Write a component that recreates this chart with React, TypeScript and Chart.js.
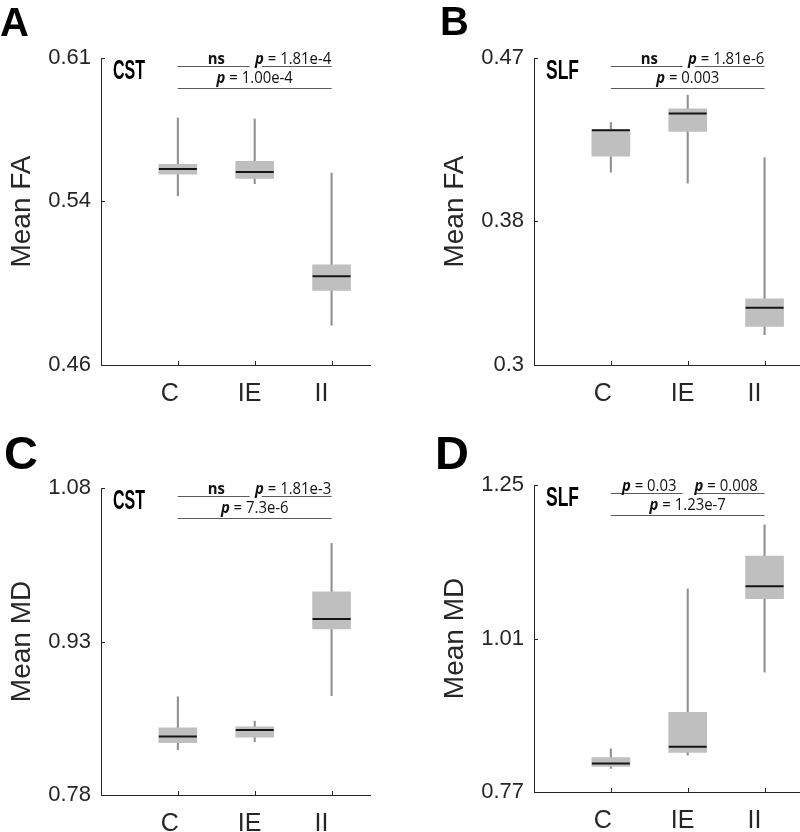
import React, { useEffect, useRef } from 'react';
import { Chart, registerables } from 'chart.js';

Chart.register(...registerables);

// ---------- data ----------
const categories = ['C', 'IE', 'II'];

// A: CST, mean FA
const aHigh = [0.5807, 0.5802, 0.5538];
const aQ3 = [0.5581, 0.5595, 0.5089];
const aMed = [0.5558, 0.5543, 0.5034];
const aQ1 = [0.5533, 0.5512, 0.4965];
const aLow = [0.5427, 0.5486, 0.4794];
const aTicks = [0.46, 0.54, 0.61];
const aTickLabels = ['0.46', '0.54', '0.61'];
const aNotes = ['ns', 'p = 1.81e-4', 'p = 1.00e-4'];

// B: SLF, mean FA
const bHigh = [0.4343, 0.4494, 0.4148];
const bQ3 = [0.4304, 0.4418, 0.3367];
const bMed = [0.4300, 0.4393, 0.3317];
const bQ1 = [0.4156, 0.4293, 0.3213];
const bLow = [0.4068, 0.4007, 0.3168];
const bTicks = [0.3, 0.38, 0.47];
const bTickLabels = ['0.3', '0.38', '0.47'];
const bNotes = ['ns', 'p = 1.81e-6', 'p = 0.003'];

// C: CST, mean MD
const cHigh = [0.8760, 0.8522, 1.0259];
const cQ3 = [0.8457, 0.8467, 0.9786];
const cMed = [0.8372, 0.8434, 0.9519];
const cQ1 = [0.8311, 0.8366, 0.9422];
const cLow = [0.8242, 0.8320, 0.8770];
const cTicks = [0.78, 0.93, 1.08];
const cTickLabels = ['0.78', '0.93', '1.08'];
const cNotes = ['ns', 'p = 1.81e-3', 'p = 7.3e-6'];

// D: SLF, mean MD
const dHigh = [0.8375, 1.0875, 1.1877];
const dQ3 = [0.8240, 0.8947, 1.1389];
const dMed = [0.8147, 0.8406, 1.0915];
const dQ1 = [0.8100, 0.8318, 1.0723];
const dLow = [0.8069, 0.8277, 0.9575];
const dTicks = [0.77, 1.01, 1.25];
const dTickLabels = ['0.77', '1.01', '1.25'];
const dNotes = ['p = 0.03', 'p = 0.008', 'p = 1.23e-7'];

// ---------- styles ----------
const SANS = "'Liberation Sans', Arial, Helvetica, sans-serif";
const NOTE_FONT = "'Open Sans', 'Noto Sans', sans-serif";
const AXIS_COLOR = '#262626';
const BOX_COLOR = '#bfbfbf';
const WHISKER_COLOR = '#8f8f8f';
const MEDIAN_COLOR = '#151515';
const NOTE_LINE = '#5a5a5a';
const NOTE_SIZE = 16;
const NOTE_SQUEEZE = 0.93;

const CW = 400;
const CH = 416;

type PanelCfg = {
  letter: string;
  letterX: number;
  letterY: number;
  letterSize: number;
  region: string;
  regionWidth: number;
  yTitle: string;
  left: number;
  top: number;
  high: number[];
  q3: number[];
  med: number[];
  q1: number[];
  low: number[];
  ticks: number[];
  tickLabels: string[];
  notes: string[];
};

const panels: PanelCfg[] = [
  { letter: 'A', letterX: 0, letterY: 36, letterSize: 40, region: 'CST', regionWidth: 32, yTitle: 'Mean FA', left: 0, top: 0,
    high: aHigh, q3: aQ3, med: aMed, q1: aQ1, low: aLow, ticks: aTicks, tickLabels: aTickLabels, notes: aNotes },
  { letter: 'B', letterX: 7, letterY: 35, letterSize: 40, region: 'SLF', regionWidth: 33, yTitle: 'Mean FA', left: 433, top: 0,
    high: bHigh, q3: bQ3, med: bMed, q1: bQ1, low: bLow, ticks: bTicks, tickLabels: bTickLabels, notes: bNotes },
  { letter: 'C', letterX: 4, letterY: 39, letterSize: 47, region: 'CST', regionWidth: 32, yTitle: 'Mean MD', left: 0, top: 430,
    high: cHigh, q3: cQ3, med: cMed, q1: cQ1, low: cLow, ticks: cTicks, tickLabels: cTickLabels, notes: cNotes },
  { letter: 'D', letterX: 2, letterY: 42, letterSize: 47, region: 'SLF', regionWidth: 33, yTitle: 'Mean MD', left: 433, top: 427,
    high: dHigh, q3: dQ3, med: dMed, q1: dQ1, low: dLow, ticks: dTicks, tickLabels: dTickLabels, notes: dNotes },
];

function drawNote(ctx: CanvasRenderingContext2D, text: string, cx: number, by: number) {
  ctx.save();
  ctx.textBaseline = 'alphabetic';
  ctx.textAlign = 'left';
  ctx.fillStyle = '#111';
  ctx.translate(cx, by);
  ctx.scale(NOTE_SQUEEZE, 1);
  const boldIt = `italic bold ${NOTE_SIZE}px ${NOTE_FONT}`;
  const reg = `${NOTE_SIZE}px ${NOTE_FONT}`;
  if (text.startsWith('p')) {
    const rest = text.slice(1);
    ctx.font = boldIt;
    const w1 = ctx.measureText('p').width;
    ctx.font = reg;
    const w2 = ctx.measureText(rest).width;
    const x0 = -(w1 + w2) / 2;
    ctx.font = boldIt;
    ctx.fillText('p', x0, 0);
    ctx.font = reg;
    ctx.fillText(rest, x0 + w1, 0);
  } else {
    ctx.font = `bold ${NOTE_SIZE}px ${NOTE_FONT}`;
    const w = ctx.measureText(text).width;
    ctx.fillText(text, -w / 2, 0);
  }
  ctx.restore();
}

function Panel({ cfg }: { cfg: PanelCfg }) {
  const ref = useRef<HTMLCanvasElement>(null);

  useEffect(() => {
    const canvas = ref.current!;
    const decor = {
      id: 'decor',
      afterDraw(chart: any) {
        const { ctx, chartArea } = chart;
        const x = chart.scales.x;
        const y = chart.scales.y;
        ctx.save();
        // inward tick marks
        ctx.strokeStyle = AXIS_COLOR;
        ctx.lineWidth = 1;
        y.ticks.forEach((t: any) => {
          const py = Math.round(y.getPixelForValue(t.value)) + 0.5;
          ctx.beginPath();
          ctx.moveTo(chartArea.left, py);
          ctx.lineTo(chartArea.left + 4, py);
          ctx.stroke();
        });
        x.ticks.forEach((t: any) => {
          const px = Math.round(x.getPixelForValue(t.value)) + 0.5;
          ctx.beginPath();
          ctx.moveTo(px, chartArea.bottom);
          ctx.lineTo(px, chartArea.bottom - 4);
          ctx.stroke();
        });
        // panel letter
        ctx.fillStyle = '#000';
        ctx.textAlign = 'left';
        ctx.textBaseline = 'alphabetic';
        ctx.font = `bold ${cfg.letterSize}px ${SANS}`;
        ctx.fillText(cfg.letter, cfg.letterX, cfg.letterY);
        // region label (condensed bold)
        ctx.font = `bold 27px ${SANS}`;
        const rw = ctx.measureText(cfg.region).width;
        ctx.save();
        ctx.translate(chartArea.left + 12, chartArea.top + 21);
        ctx.scale(cfg.regionWidth / rw, 1);
        ctx.fillText(cfg.region, 0, 0);
        ctx.restore();
        // significance brackets
        const x1 = x.getPixelForValue(1);
        const x2 = x.getPixelForValue(2);
        const x3 = x.getPixelForValue(3);
        const r1 = Math.round(chartArea.top + 7.5) + 0.5;
        const r2 = Math.round(chartArea.top + 29.5) + 0.5;
        ctx.strokeStyle = NOTE_LINE;
        ctx.lineWidth = 1;
        ctx.beginPath();
        ctx.moveTo(x1, r1);
        ctx.lineTo(x2 - 5, r1);
        ctx.moveTo(x2 + 7, r1);
        ctx.lineTo(x3, r1);
        ctx.moveTo(x1, r2);
        ctx.lineTo(x3, r2);
        ctx.stroke();
        drawNote(ctx, cfg.notes[0], (x1 + x2) / 2, chartArea.top + 5.5);
        drawNote(ctx, cfg.notes[1], (x2 + x3) / 2, chartArea.top + 5.5);
        drawNote(ctx, cfg.notes[2], x2, chartArea.top + 25);
        ctx.restore();
      },
    };

    const chart = new Chart(canvas, {
      type: 'bar',
      data: {
        datasets: [
          {
            type: 'scatter',
            data: categories.map((_, i) => ({ x: i + 1, y: cfg.med[i] })),
            pointStyle: 'line',
            pointRadius: 19,
            pointHoverRadius: 19,
            borderColor: MEDIAN_COLOR,
            borderWidth: 2,
            order: 1,
          } as any,
          {
            type: 'bar',
            data: categories.map((_, i) => ({ x: i + 1, y: [cfg.q1[i], cfg.q3[i]] })),
            backgroundColor: BOX_COLOR,
            barThickness: 38,
            grouped: false,
            borderSkipped: false,
            order: 2,
          } as any,
          {
            type: 'bar',
            data: categories.map((_, i) => ({ x: i + 1, y: [cfg.low[i], cfg.high[i]] })),
            backgroundColor: WHISKER_COLOR,
            barThickness: 1.4,
            grouped: false,
            order: 3,
          } as any,
        ],
      },
      options: {
        animation: false,
        responsive: false,
        maintainAspectRatio: false,
        devicePixelRatio: 1,
        layout: { padding: { top: 58, right: 30, bottom: 1, left: 0 } },
        plugins: { legend: { display: false }, tooltip: { enabled: false } },
        scales: {
          x: {
            type: 'linear',
            offset: false,
            min: 0,
            max: 3.5,
            afterBuildTicks: (s: any) => {
              s.ticks = categories.map((_, i) => ({ value: i + 1 }));
            },
            afterFit: (s: any) => {
              s.height = 50;
            },
            ticks: {
              callback: (v: any) => categories[Number(v) - 1] ?? '',
              font: { family: SANS, size: 25 },
              color: AXIS_COLOR,
              align: 'start',
              labelOffset: -17,
              padding: 14,
              maxRotation: 0,
              autoSkip: false,
            },
            grid: { display: true, drawOnChartArea: false, drawTicks: false },
            border: { display: true, color: AXIS_COLOR, width: 1 },
          },
          y: {
            type: 'linear',
            min: cfg.ticks[0],
            max: cfg.ticks[cfg.ticks.length - 1],
            afterBuildTicks: (s: any) => {
              s.ticks = cfg.ticks.map((v) => ({ value: v }));
            },
            afterFit: (s: any) => {
              s.width = 101;
            },
            ticks: {
              callback: (v: any) => {
                const idx = cfg.ticks.findIndex((t) => Math.abs(t - Number(v)) < 1e-9);
                return idx >= 0 ? cfg.tickLabels[idx] : '';
              },
              font: { family: SANS, size: 22 },
              color: AXIS_COLOR,
              padding: 10,
              autoSkip: false,
            },
            title: {
              display: true,
              text: cfg.yTitle,
              font: { family: SANS, size: 28 },
              color: AXIS_COLOR,
              padding: { top: 5, bottom: 0 },
            },
            grid: { display: true, drawOnChartArea: false, drawTicks: false },
            border: { display: true, color: AXIS_COLOR, width: 1 },
          },
        },
      } as any,
      plugins: [decor],
    });
    return () => chart.destroy();
  }, [cfg]);

  return (
    <canvas
      ref={ref}
      width={CW}
      height={CH}
      style={{ position: 'absolute', left: cfg.left, top: cfg.top, width: CW, height: CH, display: 'block' }}
    />
  );
}

export default function App() {
  return (
    <div
      style={{
        position: 'absolute',
        left: 0,
        top: 0,
        width: 800,
        height: 832,
        overflow: 'hidden',
        background: '#fff',
      }}
    >
      {panels.map((p) => (
        <Panel key={p.letter} cfg={p} />
      ))}
    </div>
  );
}
